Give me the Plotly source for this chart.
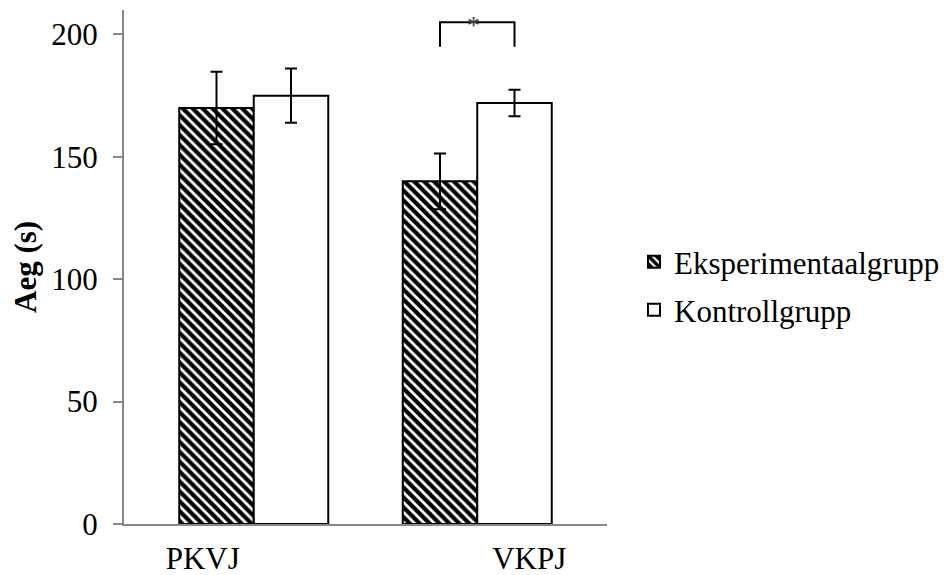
import plotly.graph_objects as go

categories = ["PKVJ", "VKPJ"]
series_names = ["Eksperimentaalgrupp", "Kontrollgrupp"]
exp_values = [170, 140]
exp_errors = [14.8, 11.4]
ctrl_values = [175, 172]
ctrl_errors = [11.1, 5.4]
y_ticks = [0, 50, 100, 150, 200]
sig_bracket_low = 195
sig_bracket_high = 205
sig_label = "*"
y_title = "Aeg (s)"

FONT = "Liberation Serif"
FS = 31
bar_w = 1 / 3  # width of each bar in category units
idx = list(range(len(categories)))

fig = go.Figure()
fig.add_trace(go.Bar(
    name=series_names[0], x=idx, y=exp_values, legend="legend",
    marker=dict(color="white", line=dict(color="black", width=2),
                pattern=dict(shape="\\", fgcolor="black", bgcolor="white", size=7,
                             solidity=0.6, fgopacity=1)),
    error_y=dict(type="data", array=exp_errors, color="black", thickness=2, width=6),
))
fig.add_trace(go.Bar(
    name=series_names[1], x=idx, y=ctrl_values, legend="legend2",
    marker=dict(color="white", line=dict(color="black", width=2)),
    error_y=dict(type="data", array=ctrl_errors, color="black", thickness=2, width=6),
))

# significance bracket between the two VKPJ bars
ci = 1
x_left = idx[ci] - bar_w / 2
x_right = idx[ci] + bar_w / 2
fig.add_trace(go.Scatter(
    x=[x_left, x_left, x_right, x_right],
    y=[sig_bracket_low, sig_bracket_high, sig_bracket_high, sig_bracket_low],
    mode="lines", line=dict(color="black", width=2), showlegend=False, hoverinfo="skip",
    cliponaxis=False,
))
fig.add_annotation(x=idx[ci], y=sig_bracket_high, text=sig_label, showarrow=False,
                   xref="x", yref="y", yanchor="middle", xshift=-4, yshift=-3,
                   font=dict(family=FONT, size=26, color="#404040"))

# y axis title
fig.add_annotation(x=-99 / 483, y=0.5, xref="paper", yref="paper", text="<b>" + y_title + "</b>",
                   textangle=-90, showarrow=False, xanchor="center", yanchor="middle",
                   font=dict(family=FONT, size=FS, color="black"))

# small left extension of horizontal axis
fig.add_shape(type="line", xref="paper", yref="paper", x0=-9 / 483, x1=0, y0=0, y1=0,
              line=dict(color="#888888", width=2))

pad = 18 / 223.5
label_shift = [-51 / 223.5, 52 / 223.5]
legend_common = dict(xanchor="left", yanchor="middle",
                     font=dict(family=FONT, size=FS, color="black"),
                     bgcolor="rgba(0,0,0,0)")
fig.update_layout(
    width=940, height=567,
    margin=dict(l=116, r=341, t=2, b=51, autoexpand=False),
    paper_bgcolor="white", plot_bgcolor="white",
    barmode="group", bargap=1 / 3, bargroupgap=0,
    font=dict(family=FONT, size=FS, color="black"),
    showlegend=True,
    legend=dict(x=(634 - 124) / 483, y=(524 - 262) / 514, **legend_common),
    legend2=dict(x=(634 - 124) / 483, y=(524 - 310) / 514, **legend_common),
    xaxis=dict(range=[-0.5 - pad, len(categories) - 0.5 + pad],
               tickvals=[i + s for i, s in zip(idx, label_shift)], ticktext=categories,
               ticks="", showgrid=False, zeroline=False, automargin=False,
               showline=True, linecolor="#888888", linewidth=2,
               ticklabelstandoff=6,
               tickfont=dict(family=FONT, size=FS, color="black")),
    yaxis=dict(range=[0, 210], tickvals=y_ticks, ticks="outside", ticklen=9,
               tickcolor="#888888", tickwidth=2, showgrid=False, zeroline=False,
               showline=True, linecolor="#888888", linewidth=2, automargin=False,
               ticklabelstandoff=9,
               tickfont=dict(family=FONT, size=FS, color="black")),
)

fig.write_html("out.html")
